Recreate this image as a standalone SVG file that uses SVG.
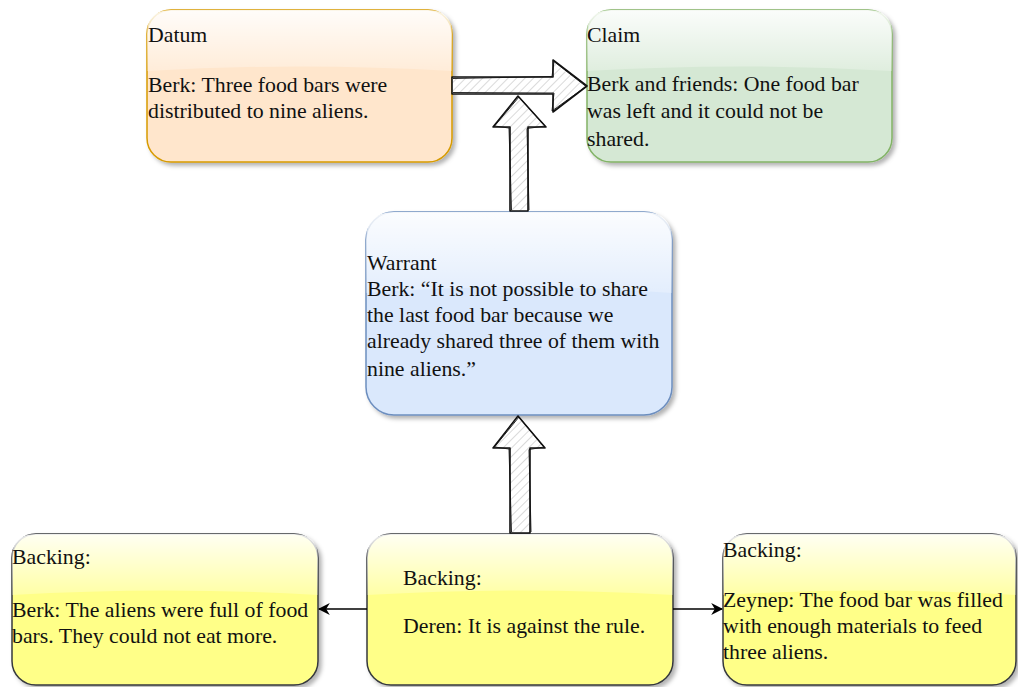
<svg xmlns="http://www.w3.org/2000/svg" width="1018" height="687" viewBox="0 0 1018 687">
  <style>
    .lbl { font-family: "Liberation Serif", "Times New Roman", serif; font-size: 21.8px; fill: #111; }
    .box { stroke-width: 1.5; }
    .gloss { fill: url(#glossGrad); }
    .block { fill: url(#hatch); stroke: #111; stroke-width: 1.6; stroke-linejoin: round; }
    .sketch { fill: none; stroke: #111; stroke-width: 0.9; stroke-linejoin: round; }
    .link { stroke: #000; stroke-width: 1.3; fill: none; }
  </style>
  <defs>
    <filter id="shadow" x="-10%" y="-10%" width="120%" height="130%">
      <feDropShadow dx="3" dy="3" stdDeviation="2" flood-color="#000" flood-opacity="0.3"/>
    </filter>
    <linearGradient id="glossGrad" x1="0" y1="0" x2="0" y2="1">
      <stop offset="0" stop-color="#fff" stop-opacity="0.9"/>
      <stop offset="1" stop-color="#fff" stop-opacity="0.25"/>
    </linearGradient>
    <pattern id="hatch" width="6" height="6" patternUnits="userSpaceOnUse" patternTransform="rotate(45)">
      <rect width="6" height="6" fill="#fff"/>
      <line x1="0" y1="0" x2="0" y2="6" stroke="#bbb" stroke-width="1.1"/>
    </pattern>
    <marker id="arrow" viewBox="0 0 10 10" refX="9" refY="5" markerWidth="12" markerHeight="12" markerUnits="userSpaceOnUse" orient="auto">
      <path d="M0,0 L10,5 L0,10 L3,5 Z" fill="#000"/>
    </marker>
  </defs>

  <!-- Datum -->
  <g id="datum">
    <rect class="box" x="147" y="10" width="305" height="152" rx="24" fill="#ffe6cc" stroke="#d79b00" filter="url(#shadow)"/>
    <path class="gloss" d="M147,71 L147,34 Q147,10 171,10 L428,10 Q452,10 452,34 L452,71 Q300,62 147,71 Z"/>
    <text class="lbl" x="148" y="42">Datum</text>
    <text class="lbl" x="148" y="92">Berk: Three food bars were</text>
    <text class="lbl" x="148" y="118">distributed to nine aliens.</text>
  </g>

  <!-- Claim -->
  <g id="claim">
    <rect class="box" x="587" y="10" width="305" height="152" rx="24" fill="#d5e8d4" stroke="#82b366" filter="url(#shadow)"/>
    <path class="gloss" d="M587,71 L587,34 Q587,10 611,10 L868,10 Q892,10 892,34 L892,71 Q740,62 587,71 Z"/>
    <text class="lbl" x="587" y="42">Claim</text>
    <text class="lbl" x="587" y="91">Berk and friends: One food bar</text>
    <text class="lbl" x="587" y="118">was left and it could not be</text>
    <text class="lbl" x="587" y="146">shared.</text>
  </g>

  <!-- Warrant -->
  <g id="warrant">
    <rect class="box" x="366" y="212" width="306" height="203" rx="28" fill="#dae8fc" stroke="#6c8ebf" filter="url(#shadow)"/>
    <path class="gloss" d="M366,293 L366,240 Q366,212 394,212 L644,212 Q672,212 672,240 L672,293 Q519,281 366,293 Z"/>
    <text class="lbl" x="367" y="270">Warrant</text>
    <text class="lbl" x="367" y="296">Berk: “It is not possible to share</text>
    <text class="lbl" x="367" y="322">the last food bar because we</text>
    <text class="lbl" x="367" y="348">already shared three of them with</text>
    <text class="lbl" x="367" y="376">nine aliens.”</text>
  </g>

  <!-- Backing, left -->
  <g id="backing-left">
    <rect class="box" x="12" y="534" width="306" height="151" rx="24" fill="#ffff88" stroke="#36393d" filter="url(#shadow)"/>
    <path class="gloss" d="M12,595 L12,558 Q12,534 36,534 L294,534 Q318,534 318,558 L318,595 Q165,586 12,595 Z"/>
    <text class="lbl" x="12" y="564">Backing:</text>
    <text class="lbl" x="12" y="617">Berk: The aliens were full of food</text>
    <text class="lbl" x="12" y="643">bars. They could not eat more.</text>
  </g>

  <!-- Backing, centre -->
  <g id="backing-centre">
    <rect class="box" x="367" y="534" width="306" height="151" rx="24" fill="#ffff88" stroke="#36393d" filter="url(#shadow)"/>
    <path class="gloss" d="M367,595 L367,558 Q367,534 391,534 L649,534 Q673,534 673,558 L673,595 Q520,586 367,595 Z"/>
    <text class="lbl" x="403" y="585">Backing:</text>
    <text class="lbl" x="403" y="633">Deren: It is against the rule.</text>
  </g>

  <!-- Backing, right -->
  <g id="backing-right">
    <rect class="box" x="723" y="534" width="293" height="151" rx="24" fill="#ffff88" stroke="#36393d" filter="url(#shadow)"/>
    <path class="gloss" d="M723,595 L723,558 Q723,534 747,534 L992,534 Q1016,534 1016,558 L1016,595 Q870,586 723,595 Z"/>
    <text class="lbl" x="723" y="557">Backing:</text>
    <text class="lbl" x="723" y="607">Zeynep: The food bar was filled</text>
    <text class="lbl" x="723" y="633">with enough materials to feed</text>
    <text class="lbl" x="723" y="659">three aliens.</text>
  </g>

  <!-- Connectors -->
  <g id="connectors">
    <!-- datum to claim -->
    <path class="block" d="M452,77 L553,77 L553,60 L587,86 L553,112 L553,94 L452,94 Z"/>
    <path class="sketch" d="M453,78.5 L552,76.5 L554,61.5 L586,86.5 L552,111 L554,93 L453,92.5"/>
    <!-- warrant up to the datum-claim link -->
    <path class="block" d="M510,211 L510,127 L493,127 L518,96 L546,127 L528,127 L528,211 Z"/>
    <path class="sketch" d="M511.5,210 L509,128 L494.5,126 L519,97 L545,126 L527,128.5 L529,210"/>
    <!-- backing up to warrant -->
    <path class="block" d="M510,533 L510,448 L493,448 L518,416 L545,448 L530,448 L530,533 Z"/>
    <path class="sketch" d="M511.5,532 L509,449 L494.5,447 L519,417 L544,447 L529,449.5 L531,532"/>
    <!-- centre backing out to side backings -->
    <line class="link" x1="367" y1="609" x2="319" y2="609" marker-end="url(#arrow)"/>
    <line class="link" x1="673" y1="609" x2="722" y2="609" marker-end="url(#arrow)"/>
  </g>
</svg>
